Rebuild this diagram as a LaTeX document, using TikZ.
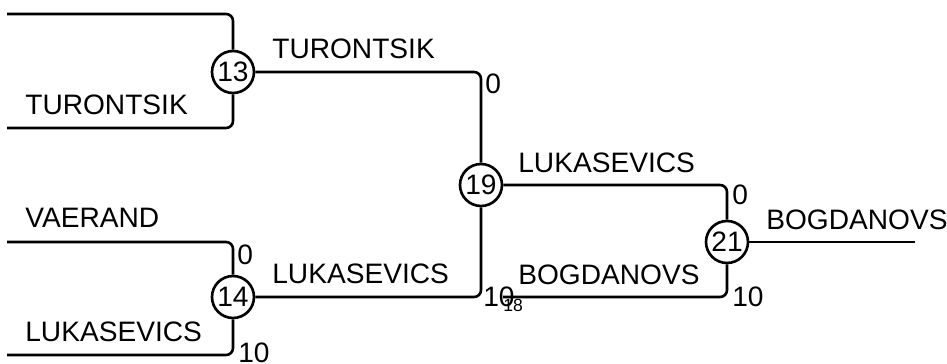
\documentclass[tikz,border=0pt]{standalone}
\usepackage{fontspec}
\setmainfont{Liberation Sans}
\usetikzlibrary{positioning}
\tikzstyle{match}=[circle, draw=black, line width=1.5pt, fill=white, inner sep=0pt, minimum size=0.84cm, font=\fontsize{16}{18}\selectfont]
\tikzstyle{wire}=[line width=1.5pt, rounded corners=0.14cm]
\tikzstyle{player}=[anchor=base west, inner sep=0pt, font=\fontsize{16}{18}\selectfont]
\tikzstyle{score}=[inner sep=0pt, font=\fontsize{16}{18}\selectfont]
\tikzstyle{srcmatch}=[inner sep=0pt, font=\fontsize{10}{12}\selectfont]

\begin{document}
\begin{tikzpicture}[x=0.02cm,y=-0.02cm]
\useasboundingbox (0,0) rectangle (947,364);

% entry points
\coordinate (s13a) at (7,14);
\coordinate (s13b) at (7,128);
\coordinate (s14a) at (7,242);
\coordinate (s14b) at (7,355);
\coordinate (s21b) at (503,297);
\coordinate (winner) at (915,242);

\node[match] (m13) at (233,72) {13};
\node[match] (m14) at (233,297) {14};
\node[match] (m19) at (481,185) {19};
\node[match] (m21) at (727,242) {21};

% wires
\draw[wire] (s13a) -| (m13);
\draw[wire] (s13b) -| (m13);
\draw[wire] (s14a) -| (m14);
\draw[wire] (s14b) -| (m14);
\draw[wire] (m13) -| (m19);
\draw[wire] (m14) -| (m19);
\draw[wire] (m19) -| (m21);
\draw[wire] (s21b) -| (m21);
\draw[wire] (m21) -- (winner);

% player names
\node[player] (p13a) at (25,115) {TURONTSIK};
\node[player] (p14a) at (25,228) {VAERAND};
\node[player] (p14b) at (25,342) {LUKASEVICS};
\node[player] (p19a) at (272,58.5) {TURONTSIK};
\node[player] (p19b) at (272,284) {LUKASEVICS};
\node[player] (p21a) at (518,173) {LUKASEVICS};
\node[player] (p21b) at (518,285) {BOGDANOVS};
\node[player] (pwin) at (766,230) {BOGDANOVS};

% scores
\node[score,anchor=north west] (sc14a) at (237,245) {0};
\node[score,anchor=west] (sc14b) at (238,353) {10};
\node[score,anchor=north west] (sc19a) at (485,74) {0};
\node[score,anchor=west] (sc19b) at (483,297) {10};
\node[score,anchor=north west] (sc21a) at (732,185) {0};
\node[score,anchor=west] (sc21b) at (732,297) {10};
\node[srcmatch,anchor=north west] (from18) at (s21b) [yshift=-0.04cm] {18};
\end{tikzpicture}
\end{document}
